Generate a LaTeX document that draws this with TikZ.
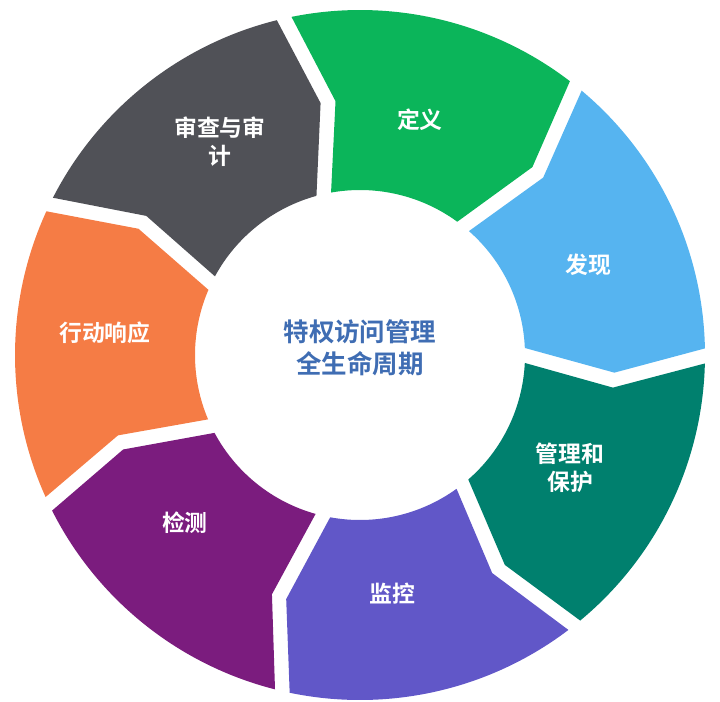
\documentclass[tikz,border=0pt]{standalone}
\usepackage{fontspec}
\newfontfamily\cjk{Noto Sans CJK SC Bold}
\usetikzlibrary{positioning}
\definecolor{audit}{HTML}{505157}
\definecolor{define}{HTML}{0BB55A}
\definecolor{discover}{HTML}{56B4F0}
\definecolor{protect}{HTML}{00806E}
\definecolor{monitor}{HTML}{6157C8}
\definecolor{detect}{HTML}{7B1C7E}
\definecolor{respond}{HTML}{F57C45}
\definecolor{titleblue}{HTML}{3F6DB3}

\begin{document}
\begin{tikzpicture}[
  x=0.02cm, y=0.02cm,
  label/.style={align=center, text=white, font=\cjk\fontsize{13}{16}\selectfont},
  title/.style={align=center, text=titleblue, font=\cjk\fontsize{14.5}{18}\selectfont}
]
  \useasboundingbox (-360,-346) rectangle (360,355);
  % segments, clockwise from the top left
  \foreach \i/\col/\txt/\px/\py in {0/audit/{审查与审\\计}/-140/213, 1/define/{定义}/60/235,
      2/discover/{发现}/228/90, 3/protect/{管理和\\保护}/210/-113, 4/monitor/{监控}/32/-239,
      5/detect/{检测}/-175/-168, 6/respond/{行动响应}/-255/22} {
    \pgfmathsetmacro\A{154.13-\i*51.4286}
    \pgfmathsetmacro\B{\A-51.4286}
    \fill[\col] (\A-1.25:345) arc[start angle=\A-1.25, end angle=\B+1.25, radius=345]
      -- (\B-5.5+1.69:255) -- (\B+2.6:165)
      arc[start angle=\B+2.6, end angle=\A-2.6, radius=165]
      -- (\A-5.5-1.69:255) -- cycle;
    \node[label] (seg\i) at (\px,\py) {\txt};
  }
  \node[title] (centre) at (0,7) {特权访问管理\\全生命周期};
\end{tikzpicture}
\end{document}
